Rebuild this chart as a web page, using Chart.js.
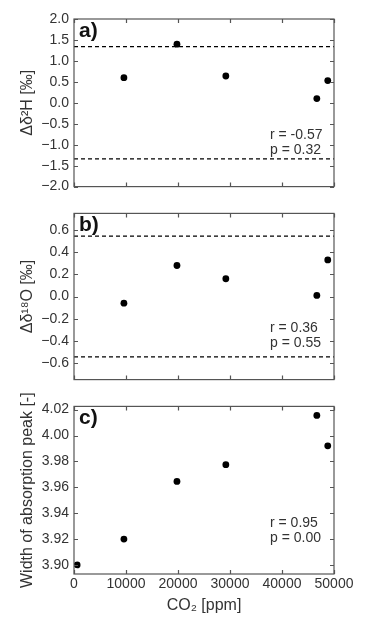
<!DOCTYPE html>
<html>
<head>
<meta charset="utf-8">
<script src="https://cdn.jsdelivr.net/npm/chart.js@4.4.1/dist/chart.umd.min.js"></script>
<style>
  body { margin: 0; background: #fff; }
  .panel { position: absolute; left: 0; width: 375px; }
</style>
</head>
<body>
<div class="panel" style="top:0;height:200px"><canvas id="chartA"></canvas></div>
<div class="panel" style="top:200px;height:193px"><canvas id="chartB"></canvas></div>
<div class="panel" style="top:393px;height:227px"><canvas id="chartC"></canvas></div>
<script>
/* CO2 dependence of isotope deltas and absorption peak width */

// data
const co2Delta = [9600, 19800, 29200, 46700, 48800];
const deltaH = [0.60, 1.40, 0.64, 0.10, 0.53];
const deltaO = [-0.06, 0.28, 0.16, 0.01, 0.33];
const co2Width = [600, 9600, 19800, 29200, 46700, 48800];
const peakWidth = [3.900, 3.920, 3.9645, 3.9775, 4.0155, 3.992];
const limitH = 1.34;
const limitO = 0.545;

// axes
const xTicks = [0, 10000, 20000, 30000, 40000, 50000];
const ticksH = [-2.0, -1.5, -1.0, -0.5, 0.0, 0.5, 1.0, 1.5, 2.0];
const ticksO = [-0.6, -0.4, -0.2, 0.0, 0.2, 0.4, 0.6];
const ticksW = [3.90, 3.92, 3.94, 3.96, 3.98, 4.00, 4.02];

const FONT = "'Liberation Sans', Arial, sans-serif";
const TEXT = "#333";
const FRAME = "#555";

// box around the plot with inward ticks, panel letter and r/p text
const framePlugin = {
  id: "frame",
  afterDraw(chart, args, opts) {
    const { ctx, chartArea: a, scales } = chart;
    const tl = 4;
    ctx.save();
    ctx.strokeStyle = FRAME;
    ctx.lineWidth = 1.2;
    ctx.strokeRect(a.left, a.top, a.right - a.left, a.bottom - a.top);
    ctx.beginPath();
    scales.x.ticks.forEach((t) => {
      const px = Math.round(scales.x.getPixelForValue(t.value)) + 0.5;
      ctx.moveTo(px, a.bottom); ctx.lineTo(px, a.bottom - tl);
      ctx.moveTo(px, a.top); ctx.lineTo(px, a.top + tl);
    });
    scales.y.ticks.forEach((t) => {
      const py = Math.round(scales.y.getPixelForValue(t.value)) + 0.5;
      ctx.moveTo(a.left, py); ctx.lineTo(a.left + tl, py);
      ctx.moveTo(a.right, py); ctx.lineTo(a.right - tl, py);
    });
    ctx.stroke();

    ctx.fillStyle = "#111";
    ctx.font = `bold 21px ${FONT}`;
    ctx.textBaseline = "alphabetic";
    ctx.fillText(opts.label, a.left + 5, a.top + 18);

    ctx.fillStyle = TEXT;
    ctx.font = `14px ${FONT}`;
    ctx.textBaseline = "middle";
    ctx.fillText(opts.stats[0], a.left + 196, a.bottom - 51);
    ctx.fillText(opts.stats[1], a.left + 196, a.bottom - 36);
    ctx.restore();
  },
};

function fmt(decimals) {
  return (v) => v.toFixed(decimals).replace("-", "\u2212");
}

function limitLine(y) {
  return {
    type: "line",
    data: [{ x: xTicks[0], y }, { x: xTicks[xTicks.length - 1], y }],
    borderColor: "#000",
    borderWidth: 1.3,
    borderDash: [4, 3],
    pointRadius: 0,
    fill: false,
  };
}

function drawPanel(id, p) {
  const ctx = document.getElementById(id);
  const datasets = [
    {
      data: p.xs.map((x, i) => ({ x, y: p.ys[i] })),
      backgroundColor: "#000",
      borderWidth: 0,
      pointRadius: 3.4,
    },
  ];
  if (p.limit !== null) {
    datasets.push(limitLine(p.limit), limitLine(-p.limit));
  }
  new Chart(ctx, {
    type: "scatter",
    data: { datasets },
    options: {
      responsive: true,
      maintainAspectRatio: false,
      animation: false,
      layout: { padding: { top: p.padTop, bottom: p.padBottom, left: 0, right: 41 } },
      scales: {
        x: {
          type: "linear",
          min: xTicks[0],
          max: xTicks[xTicks.length - 1],
          afterBuildTicks: (s) => { s.ticks = xTicks.map((v) => ({ value: v })); },
          afterFit: (s) => { s.height = p.xHeight; },
          grid: { display: false, drawTicks: false },
          border: { display: false },
          ticks: {
            display: p.showX,
            padding: 2,
            color: TEXT,
            font: { family: FONT, size: 14 },
            maxRotation: 0,
            callback: (v) => String(v),
          },
          title: {
            display: p.showX,
            text: "CO\u2082 [ppm]",
            color: TEXT,
            font: { family: FONT, size: 16 },
            padding: { top: 0, bottom: 5 },
          },
        },
        y: {
          min: p.yMin,
          max: p.yMax,
          afterBuildTicks: (s) => { s.ticks = p.yTicks.map((v) => ({ value: v })); },
          afterFit: (s) => { s.width = 74; },
          grid: { display: false, drawTicks: false },
          border: { display: false },
          ticks: {
            padding: 5,
            color: TEXT,
            font: { family: FONT, size: 14 },
            callback: fmt(p.decimals),
          },
          title: {
            display: true,
            text: p.yTitle,
            color: TEXT,
            font: { family: FONT, size: 16 },
            padding: { top: 18, bottom: 0 },
          },
        },
      },
      plugins: {
        legend: { display: false },
        tooltip: { enabled: false },
        frame: { label: p.label, stats: p.stats },
      },
    },
    plugins: [framePlugin],
  });
}

drawPanel("chartA", {
  xs: co2Delta, ys: deltaH, limit: limitH,
  yMin: -2, yMax: 2, yTicks: ticksH, decimals: 1,
  yTitle: "\u0394\u03b4\u00b2H [\u2030]",
  label: "a)", stats: ["r = -0.57", "p = 0.32"],
  padTop: 19, padBottom: 7, xHeight: 0, showX: false,
});

drawPanel("chartB", {
  xs: co2Delta, ys: deltaO, limit: limitO,
  yMin: -0.75, yMax: 0.75, yTicks: ticksO, decimals: 1,
  yTitle: "\u0394\u03b4\u00b9\u2078O [\u2030]",
  label: "b)", stats: ["r = 0.36", "p = 0.55"],
  padTop: 11, padBottom: 9, xHeight: 0, showX: false,
});

drawPanel("chartC", {
  xs: co2Width, ys: peakWidth, limit: null,
  yMin: 3.893, yMax: 4.0225, yTicks: ticksW, decimals: 2,
  yTitle: "Width of absorption peak [-]",
  label: "c)", stats: ["r = 0.95", "p = 0.00"],
  padTop: 9, padBottom: 0, xHeight: 46, showX: true,
});
</script>
</body>
</html>
